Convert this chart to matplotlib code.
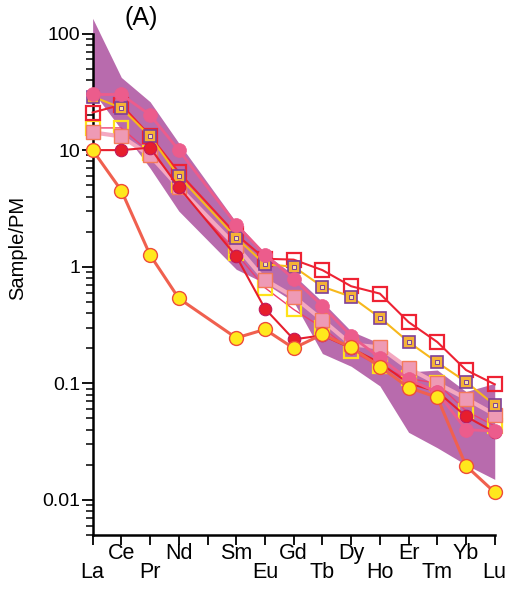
import matplotlib.pyplot as plt
from matplotlib.ticker import LogLocator, FuncFormatter, NullFormatter

plt.rcParams['font.family'] = ['Liberation Sans', 'DejaVu Sans']

# element positions (Pm slot left empty)
elements = ['La', 'Ce', 'Pr', 'Nd', 'Sm', 'Eu', 'Gd', 'Tb', 'Dy', 'Ho', 'Er', 'Tm', 'Yb', 'Lu']
xpos = [0, 1, 2, 3, 5, 6, 7, 8, 9, 10, 11, 12, 13, 14]
label_high = [False, True, False, True, True, False, True, False, True, False, True, False, True, False]

# field (band)
band_upper = [135, 42, 26, 11.5, 2.4, 1.3, 0.85, 0.5, 0.28, 0.22, 0.125, 0.13, 0.085, 0.10]
band_lower = [32, 15, 7, 3.0, 0.95, 0.72, 0.5, 0.18, 0.14, 0.095, 0.038, 0.028, 0.02, 0.015]

# samples
pink_circ = [30, 30, 20, 10, 2.3, 1.27, 0.79, 0.46, 0.254, 0.166, 0.108, 0.084, 0.040, 0.039]
red_circ = [10, 10, 10.5, 4.8, 1.23, 0.437, 0.238, 0.258, 0.2, 0.15, 0.1, 0.085, 0.052, 0.038]
yellow_circ = [10, 4.5, 1.26, 0.535, 0.245, 0.29, 0.2, 0.263, 0.203, 0.139, 0.092, 0.0757, 0.0196, 0.0116]
red_sq = [21, 24.5, 13.3, 6.45, 1.89, 1.17, 1.15, 0.935, 0.68, 0.588, 0.335, 0.226, 0.13, 0.098]
gold_sq = [28.8, 23, 13.1, 5.96, 1.77, 1.05, 1.0, 0.674, 0.553, 0.366, 0.226, 0.151, 0.103, 0.065]
yellow_sq = [15.5, 15.5, 9.5, 5.0, 1.3, 0.66, 0.43, 0.3, 0.19, 0.14, 0.11, 0.1, 0.058, 0.043]
pink_sq = [14.2, 13.1, 9.0, 4.8, 1.5, 0.77, 0.553, 0.349, 0.216, 0.203, 0.134, 0.1, 0.074, 0.054]

fig = plt.figure(figsize=(5.09, 5.90), dpi=100)
ax = fig.add_axes([0.182, 0.0932, 0.790, 0.850])

ax.fill_between(xpos, band_lower, band_upper, color='#B86BAD', linewidth=0, zorder=1, clip_on=False)

kw = dict(clip_on=False, zorder=3)
ax.plot(xpos, yellow_sq, color='#EE4070', lw=1.0, marker='s', ms=9.5, mfc='none', mec='#FFE21A', mew=1.6, **kw)
ax.plot(xpos, pink_sq, color='#F4A8C0', lw=3.0, marker='s', ms=9.5, mfc='#EE9AB5', mec='#F47A5A', mew=1.0, **kw)
ax.plot(xpos, red_sq, color='#EE2233', lw=1.5, marker='s', ms=9.5, mfc='none', mec='#EE2233', mew=1.6, **kw)
ax.plot(xpos, gold_sq, color='#F7B81C', lw=1.5, marker='s', ms=8, mfc='#F5B335', mec='#7E3F98', mew=1.2, **kw)
ax.plot(xpos, gold_sq, ls='none', marker='s', ms=3.5, mfc='#F7E2A8', mec='#7E3F98', mew=0.7, **kw)
ax.plot(xpos, red_circ, color='#E61E2D', lw=1.5, marker='o', ms=9, mfc='#E61E2D', mec='#C0185A', mew=0.8, **kw)
ax.plot(xpos, pink_circ, color='#EC5C8C', lw=2.0, marker='o', ms=10, mfc='#EC5C8C', mec='#EC5C8C', mew=0.5, **kw)
ax.plot(xpos, yellow_circ, color='#F0604F', lw=2.2, marker='o', ms=10, mfc='#FFE81C', mec='#EE4B3A', mew=1.0, **kw)

ax.set_yscale('log')
ax.set_ylim(0.005, 100)
ax.set_xlim(0, 14)

ax.yaxis.set_major_locator(LogLocator(base=10, numticks=10))
ax.yaxis.set_minor_locator(LogLocator(base=10, subs=range(2, 10), numticks=20))
ax.yaxis.set_major_formatter(FuncFormatter(lambda v, p: '%g' % v))
ax.yaxis.set_minor_formatter(NullFormatter())
ax.tick_params(axis='y', which='major', length=8, width=1.3, labelsize=14, pad=1)
ax.tick_params(axis='y', which='minor', length=5, width=1.1)

ax.set_xticks(range(15))
ax.set_xticklabels([])
ax.tick_params(axis='x', which='major', length=7, width=1.3)

for s in ['top', 'right']:
    ax.spines[s].set_visible(False)
for s in ['left', 'bottom']:
    ax.spines[s].set_linewidth(1.8)

trans = ax.get_xaxis_transform()
for x, name, high in zip(xpos, elements, label_high):
    y = -0.036 if high else -0.074
    ax.text(x, y, name, transform=trans, ha='center', va='center', fontsize=15.5)

fig.text(18 / 509, 1 - 248 / 590, 'Sample/PM', rotation=90, ha='center', va='center', fontsize=14.5)
fig.text(141 / 509, 1 - 18 / 590, '(A)', ha='center', va='center', fontsize=18)

fig.savefig('out.png', dpi=100)
